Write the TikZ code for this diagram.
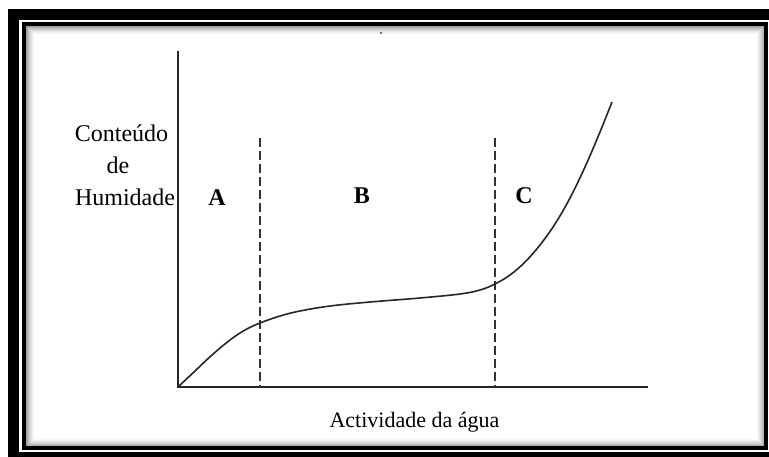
\documentclass[tikz,border=0pt]{standalone}
\usepackage{fontspec}
\setmainfont{Liberation Serif}
\begin{document}
\begin{tikzpicture}[x=1pt,y=-1pt,
  lbl/.style={anchor=base,inner sep=0pt,font=\fontsize{24}{28}\selectfont},
  region/.style={anchor=base,inner sep=0pt,font=\fontsize{24}{28}\selectfont\bfseries},
  axis/.style={line width=1.8pt,black!85},
  divider/.style={line width=1.4pt,black!80,dash pattern=on 9pt off 4pt},
  curveline/.style={line width=1.6pt,black!85}]
\clip (0,0) rectangle (769,456);
\fill[white] (0,0) rectangle (769,456);
% outer thick frame
\draw[line width=11pt] (13.5,14.5) rectangle (780,457);
% inner shadow
\foreach \i/\g in {1/45,2/38,3/31,4/25,5/19,6/14,7/10,8/6,9/3}{
  \draw[line width=1pt,black!\g] (24+\i,24+\i) rectangle (766-\i,448-\i);
}
% inner frame
\draw[line width=3.8pt] (24,24) rectangle (766,448);
% speck
\fill[black!70] (381,33) circle (1.2);
% axes
\coordinate (o) at (178,387);
\coordinate (ytop) at (178,51);
\coordinate (xend) at (648,387);
\draw[axis] (ytop) -- (o) -- (xend);
% dividers
\coordinate (d1t) at (260,138); \coordinate (d1b) at (260,387);
\coordinate (d2t) at (495,138); \coordinate (d2b) at (495,387);
\draw[divider] (d1t) -- (d1b);
\draw[divider] (d2t) -- (d2b);
% curve
\draw[curveline] plot[smooth,tension=0.6] coordinates {(178,387) (195,371) (212,355) (230,340) (245,330) (260,323) (280,316) (300,311) (330,306) (370,302) (420,298) (460,294) (480,290) (495,284) (510,275) (525,262) (540,245) (555,224) (570,198) (585,167) (600,132) (612,102)};
% labels
\node[lbl] (l1) at (121.5,141) {Conteúdo};
\node[lbl] (l2) at (118,173) {de};
\node[lbl] (l3) at (125,205) {Humidade};
\node[region] (ra) at (217,205) {A};
\node[region] (rb) at (362,203) {B};
\node[region] (rc) at (524,203) {C};
\node[lbl,font=\fontsize{22}{26}\selectfont] (xl) at (414.5,427) {Actividade da água};
\end{tikzpicture}
\end{document}
